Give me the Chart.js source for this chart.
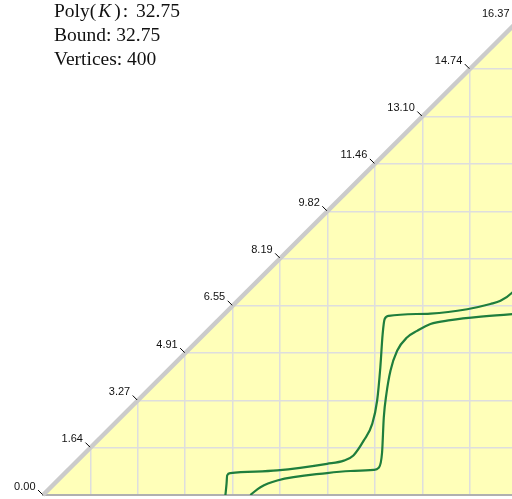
<!DOCTYPE html>
<html>
<head>
<meta charset="utf-8">
<script src="https://cdn.jsdelivr.net/npm/chart.js@4"></script>
<style>
    body { margin: 0; background: #fff; }
    #wrap { position: relative; width: 512px; height: 499px; overflow: hidden; }
    #info {
        position: absolute; left: 54px; top: -1px;
        font: 19.5px "Liberation Serif", "DejaVu Serif", serif;
        line-height: 24px; color: #111;
    }
    #info i { padding: 0 3px 0 2px; }
    #info .colon { margin: 0 3px 0 2px; }
</style>
</head>
<body>
<div id="wrap">
    <canvas id="chart" width="524" height="499"></canvas>
    <div id="info">
        <div>Poly(<i>K</i>)<span class="colon">:</span> 32.75</div>
        <div>Bound: 32.75</div>
        <div>Vertices: 400</div>
    </div>
</div>
<script>
// Diagonal axis tick labels
const tickLabels = ['0.00', '1.64', '3.27', '4.91', '6.55', '8.19', '9.82', '11.46', '13.10', '14.74', '16.37'];
const axisMax = 16.37;

// Two curves
const curveAx = [6.30, 6.34, 6.36, 6.47, 8.09, 9.81, 10.39, 10.72, 11.08, 11.37, 11.54, 11.65, 11.73, 11.80, 11.94, 13.38, 14.65, 15.45, 15.80, 16.21, 16.37];
const curveAy = [0.00, 0.40, 0.68, 0.76, 0.85, 1.08, 1.19, 1.37, 1.89, 2.46, 3.27, 4.42, 5.57, 6.09, 6.20, 6.28, 6.43, 6.61, 6.72, 7.01, 7.20];
const curveBx = [7.16, 7.51, 8.09, 9.81, 10.62, 11.42, 11.59, 11.71, 11.77, 11.86, 12.00, 12.23, 12.57, 12.92, 13.38, 14.07, 15.22, 16.21, 16.37];
const curveBy = [0.00, 0.27, 0.50, 0.76, 0.83, 0.87, 0.94, 1.47, 2.69, 3.50, 4.30, 4.99, 5.45, 5.68, 5.92, 6.05, 6.18, 6.26, 6.27];

const tickValues = tickLabels.map(parseFloat);
const toPoints = (xs, ys) => xs.map((x, i) => ({ x: x, y: ys[i] }));
const diagonal = [{ x: 0, y: 0 }, { x: axisMax, y: axisMax }];

// yellow background behind the grid, the white half covers it later
const areaBackground = {
    id: 'areaBackground',
    beforeDraw: (chart) => {
        const { ctx, chartArea } = chart;
        ctx.save();
        ctx.fillStyle = '#ffffb9';
        ctx.beginPath();
        ctx.moveTo(chartArea.left, chartArea.bottom);
        ctx.lineTo(chartArea.right, chartArea.top);
        ctx.lineTo(chartArea.right, chartArea.bottom);
        ctx.closePath();
        ctx.fill();
        ctx.restore();
    }
};

// ticks and labels along the diagonal
const diagonalTicks = {
    id: 'diagonalTicks',
    afterDatasetsDraw: (chart) => {
        const ctx = chart.ctx;
        const xs = chart.scales.x, ys = chart.scales.y;
        ctx.save();
        ctx.strokeStyle = '#000';
        ctx.lineWidth = 1;
        ctx.fillStyle = '#111';
        ctx.font = '11px "Liberation Sans", Arial, sans-serif';
        ctx.textAlign = 'right';
        ctx.textBaseline = 'middle';
        tickValues.forEach((v, i) => {
            const px = xs.getPixelForValue(v);
            const py = ys.getPixelForValue(v);
            ctx.beginPath();
            ctx.moveTo(px - 0.5, py - 0.5);
            ctx.lineTo(px - 5, py - 5);
            ctx.stroke();
            ctx.fillText(tickLabels[i], px - 7.5, py - 8.5);
        });
        ctx.restore();
    }
};

const gridColor = '#dedede';

new Chart(document.getElementById('chart'), {
    type: 'scatter',
    data: {
        datasets: [
            {
                // white upper-left half
                data: diagonal,
                showLine: true,
                borderWidth: 0,
                borderColor: 'rgba(0,0,0,0)',
                backgroundColor: '#ffffff',
                pointRadius: 0,
                fill: 'end',
                order: 4
            },
            {
                // grey diagonal axis band
                data: diagonal,
                showLine: true,
                borderColor: '#cbcbcb',
                borderWidth: 4.5,
                pointRadius: 0,
                fill: false,
                clip: false,
                order: 3
            },
            {
                data: toPoints(curveAx, curveAy),
                showLine: true,
                borderColor: '#1f7e3d',
                borderWidth: 2.2,
                pointRadius: 0,
                cubicInterpolationMode: 'monotone',
                fill: false,
                order: 2
            },
            {
                data: toPoints(curveBx, curveBy),
                showLine: true,
                borderColor: '#1f7e3d',
                borderWidth: 2.2,
                pointRadius: 0,
                cubicInterpolationMode: 'monotone',
                fill: false,
                order: 1
            }
        ]
    },
    options: {
        responsive: false,
        devicePixelRatio: 1,
        animation: false,
        layout: { padding: { left: 43, top: 22, right: 7, bottom: 4 } },
        plugins: {
            legend: { display: false },
            tooltip: { enabled: false }
        },
        scales: {
            x: {
                type: 'linear',
                min: 0,
                max: axisMax,
                afterBuildTicks: (scale) => { scale.ticks = tickValues.map(v => ({ value: v })); },
                ticks: { display: false },
                grid: {
                    color: (c) => (c.tick && c.tick.value === 0) ? 'rgba(0,0,0,0)' : gridColor,
                    lineWidth: 1.5,
                    drawTicks: false
                },
                border: { display: true, color: '#b0b0b0', width: 2 }
            },
            y: {
                type: 'linear',
                min: 0,
                max: axisMax,
                afterBuildTicks: (scale) => { scale.ticks = tickValues.map(v => ({ value: v })); },
                ticks: { display: false },
                grid: {
                    color: (c) => (c.tick && c.tick.value === axisMax) ? 'rgba(0,0,0,0)' : gridColor,
                    lineWidth: 1.5,
                    drawTicks: false
                },
                border: { display: false }
            }
        }
    },
    plugins: [areaBackground, diagonalTicks]
});
</script>
</body>
</html>
